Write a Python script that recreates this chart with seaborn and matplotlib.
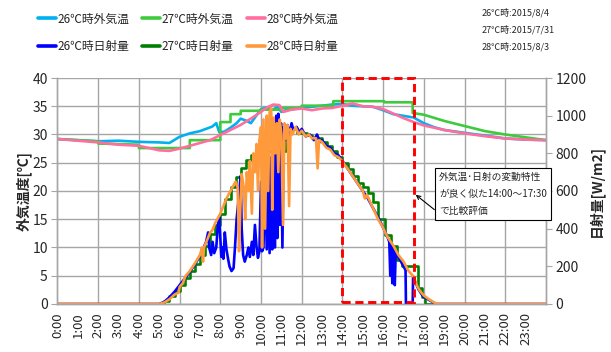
import matplotlib
matplotlib.use("Agg")
import matplotlib.pyplot as plt
from matplotlib.patches import Rectangle
import seaborn as sns

sns.set_style("white")
plt.rcParams['font.family'] = ['Noto Sans CJK JP', 'DejaVu Sans']

# ---- outdoor air temperature [°C] (time in hours) ----
t_temp26 = [0, 1, 2, 3, 4, 5, 5.5, 6, 6.5, 7, 7.3, 7.6, 7.8, 7.95, 8.2, 8.5, 8.8, 9.0, 9.3,
            9.5, 9.8, 10.0, 10.3, 10.6, 10.8, 11.0, 11.3, 11.6, 12, 12.5, 13, 13.5, 14, 14.5,
            15, 15.5, 16, 16.5, 17, 17.5, 18, 18.5, 19, 20, 21, 22, 23, 24]
v_temp26 = [29.2, 29.0, 28.8, 28.9, 28.7, 28.6, 28.5, 29.6, 30.2, 30.6, 31.0, 31.4, 32.0, 30.4,
            30.5, 31.2, 32.0, 32.8, 32.4, 32.0, 33.5, 34.5, 34.8, 34.4, 34.9, 34.0, 34.4, 34.5,
            34.8, 34.9, 35.1, 35.3, 35.4, 35.1, 35.0, 34.9, 34.3, 33.6, 33.3, 33.0, 32.0, 31.3,
            30.8, 30.3, 29.8, 29.3, 29.1, 29.0]

# 27℃ day: logged as a staircase, each change written as a pair of points
t_temp27 = [0, 2, 2, 4, 4, 6.5, 6.5, 8, 8, 8.5, 8.5, 9, 9, 10, 10, 11, 11, 12, 12, 13.55,
            13.55, 16.05, 16.05, 17.45, 17.45, 18, 19, 20, 21, 22, 23, 24]
v_temp27 = [29.2, 28.8, 28.4, 28.2, 27.6, 27.6, 29.0, 29.0, 32.2, 32.2, 33.6, 33.6, 34.2, 34.2,
            34.4, 34.4, 34.7, 34.7, 35.1, 35.1, 35.9, 35.9, 35.7, 35.7, 33.8, 33.5, 32.4, 31.5,
            30.6, 30.0, 29.5, 29.0]

t_temp28 = [0, 1, 2, 3, 4, 4.5, 5, 5.5, 6, 6.5, 7, 7.5, 8, 8.5, 9, 9.5, 10, 10.3, 10.6, 10.9,
            11.1, 11.5, 12, 12.5, 13, 13.5, 14, 14.5, 15, 15.5, 16, 16.5, 17, 17.5, 18, 18.5,
            19, 20, 21, 22, 23, 24]
v_temp28 = [29.2, 28.9, 28.6, 28.2, 28.0, 27.6, 27.2, 27.1, 27.5, 28.0, 28.5, 29.0, 29.9, 30.8,
            31.7, 32.8, 34.0, 34.8, 35.3, 35.2, 34.0, 34.4, 34.6, 34.3, 34.6, 34.7, 35.1, 35.5,
            35.0, 34.9, 34.5, 33.7, 32.9, 32.2, 31.6, 31.2, 30.8, 30.2, 29.7, 29.3, 29.1, 29.0]

# ---- solar radiation [W/m2] ----
t_rad26 = [0, 5.0, 5.25, 5.5, 5.75, 6.0, 6.25, 6.5, 6.75, 7.0, 7.15, 7.3, 7.4, 7.45, 7.55, 7.62,
           7.7, 7.8, 7.88, 7.95, 8.0, 8.05, 8.1, 8.15, 8.22, 8.3, 8.38, 8.45, 8.55, 8.65, 8.72,
           8.8, 8.9, 9.0, 9.05, 9.12, 9.2, 9.3, 9.38, 9.45, 9.55, 9.62, 9.7, 9.78, 9.85, 9.92,
           10.0, 10.05, 10.12, 10.2, 10.28, 10.35, 10.42, 10.5, 10.55, 10.62, 10.68, 10.75,
           10.8, 10.85, 10.92, 10.98, 11.05, 11.12, 11.2, 11.3, 11.4, 11.5, 11.6, 11.75, 11.9,
           12.0, 12.2, 12.4, 12.6, 12.75, 12.9, 13.0, 13.2, 13.4, 13.6, 13.8, 14.0, 14.25, 14.5,
           14.75, 15.0, 15.25, 15.5, 15.75, 16.0, 16.2, 16.3, 16.35, 16.4, 16.45, 16.52, 16.57,
           16.62, 16.7, 16.8, 16.9, 17.0, 17.1, 17.12, 17.45, 17.47, 17.6, 17.75, 17.9, 18.0,
           18.2, 18.4, 18.6, 24]
v_rad26 = [0, 0, 12, 35, 65, 100, 135, 170, 210, 255, 290, 330, 380, 300, 260, 330,
           270, 300, 420, 460, 350, 250, 300, 240, 380, 290, 240, 200, 175, 190, 300,
           450, 560, 680, 400, 260, 225, 260, 300, 250, 330, 260, 420, 300, 245, 280,
           650, 280, 300, 720, 290, 760, 270, 780, 290, 830, 300, 1000,
           350, 1010, 420, 960, 300, 940, 870, 950, 900, 960, 920, 940, 910,
           930, 890, 900, 870, 900, 860, 870, 840, 830, 800, 790, 760, 720, 680,
           640, 600, 560, 510, 460, 405, 360, 330, 150, 320, 110, 300, 100,
           280, 260, 240, 220, 200, 180, 0, 0, 140, 110, 75, 50, 38,
           25, 12, 0, 0]

# 27℃ day: step values, each held until the next time stamp
t_rad27 = [0, 5.0, 5.25, 5.5, 5.75, 6.0, 6.25, 6.5, 6.75, 7.0, 7.25, 7.5, 7.75, 8.0, 8.25,
           8.5, 8.75, 9.0, 9.25, 9.5, 10.0, 11.25, 11.75, 12.25, 12.5, 13.0, 13.25, 13.5,
           13.75, 14.0, 14.25, 14.5, 14.75, 15.0, 15.25, 15.5, 15.75, 16.1, 16.4, 16.7, 16.95,
           17.7, 17.9, 18.05, 24]
v_rad27 = [0, 0, 15, 40, 70, 100, 140, 175, 210, 260, 310, 370, 420, 480, 560,
           620, 675, 720, 765, 790, 810, 930, 910, 895, 880, 860, 840, 810,
           780, 750, 715, 680, 640, 620, 590, 540, 450, 365, 310, 235, 200,
           85, 37, 0, 0]

t_rad28 = [0, 5.0, 5.25, 5.5, 5.75, 5.95, 6.0, 6.15, 6.3, 6.5, 6.75, 7.0, 7.1, 7.15, 7.2, 7.35,
           7.5, 7.6, 7.75, 8.0, 8.15, 8.3, 8.45, 8.6, 8.75, 8.85, 8.92, 8.98, 9.05, 9.15, 9.22,
           9.3, 9.38, 9.45, 9.55, 9.62, 9.7, 9.78, 9.85, 9.92, 10.0, 10.05, 10.12, 10.2, 10.28,
           10.35, 10.42, 10.5, 10.55, 10.62, 10.7, 10.78, 10.85, 10.92, 11.0, 11.08, 11.15,
           11.22, 11.3, 11.38, 11.45, 11.55, 11.7, 11.85, 12.0, 12.2, 12.35, 12.5, 12.7, 12.78,
           12.85, 13.0, 13.2, 13.4, 13.6, 13.8, 14.0, 14.1, 14.25, 14.5, 14.75, 15.0, 15.1,
           15.2, 15.5, 15.75, 16.0, 16.1, 16.25, 16.5, 16.75, 17.0, 17.25, 17.5, 17.65, 17.8,
           18.0, 18.25, 18.5, 18.7, 24]
v_rad28 = [0, 0, 8, 25, 50, 60, 90, 110, 150, 175, 215, 260, 300, 225, 300, 340,
           380, 390, 430, 480, 520, 560, 590, 620, 650, 620, 280, 500, 690, 620, 450,
           700, 600, 760, 480, 800, 700, 850, 600, 870, 940, 300, 980, 400, 1000,
           600, 1020, 1040, 500, 990, 800, 960, 700, 980, 900, 420, 960,
           880, 950, 520, 930, 900, 940, 900, 920, 890, 900, 880, 880, 720,
           870, 860, 830, 820, 790, 780, 760, 740, 720, 680, 640, 600, 560,
           580, 510, 450, 405, 380, 350, 310, 260, 225, 175, 145, 100, 70,
           45, 25, 8, 0, 0]

labels_temp = ['26℃時外気温', '27℃時外気温', '28℃時外気温']
labels_rad = ['26℃時日射量', '27℃時日射量', '28℃時日射量']
date_notes = ['26℃時:2015/8/4', '27℃時:2015/7/31', '28℃時:2015/8/3']
hour_labels = [f'{h}:00' for h in range(24)]

c_temp = ['#00B0F0', '#3DCB3D', '#FF6E9C']
c_rad = ['#0000FF', '#008000', '#FF9A3C']
grid_c = '#A6A6A6'

fig = plt.figure(figsize=(6.11, 3.52), dpi=100)
ax = fig.add_axes([0.0941, 0.1364, 0.7995, 0.642])
ax2 = ax.twinx()

lw = 1.9
for t, v, c, lab in zip([t_temp26, t_temp27, t_temp28], [v_temp26, v_temp27, v_temp28],
                        c_temp, labels_temp):
    sns.lineplot(x=t, y=v, ax=ax, color=c, lw=lw, label=lab, estimator=None, sort=False,
                 legend=False)

sns.lineplot(x=t_rad27, y=v_rad27, ax=ax2, color=c_rad[1], lw=lw, label=labels_rad[1],
             estimator=None, sort=False, legend=False, drawstyle='steps-post')
sns.lineplot(x=t_rad26, y=v_rad26, ax=ax2, color=c_rad[0], lw=lw, label=labels_rad[0],
             estimator=None, sort=False, legend=False)
sns.lineplot(x=t_rad28, y=v_rad28, ax=ax2, color=c_rad[2], lw=lw, label=labels_rad[2],
             estimator=None, sort=False, legend=False)

# axes ranges and ticks
ax.set_xlim(0, 24)
ax.set_ylim(0, 40)
ax2.set_ylim(0, 1200)
ax.set_xticks(range(25))
ax.set_xticklabels(hour_labels + [''], rotation=90, fontsize=9.5)
ax.set_yticks(range(0, 41, 5))
ax.tick_params(axis='y', labelsize=10, length=4, color=grid_c, pad=3)
ax.tick_params(axis='x', length=3, color=grid_c, pad=3)
ax2.set_yticks(range(0, 1201, 200))
ax2.tick_params(axis='y', labelsize=10, length=4, color=grid_c, pad=3)
ax.set_xlabel('')
ax.set_ylabel('外気温度[℃]', fontsize=10, fontweight='bold', labelpad=0)
ax2.set_ylabel('日射量[W/m2]', fontsize=10, fontweight='bold', labelpad=1)

# grid
ax.yaxis.grid(True, color=grid_c, lw=1)
ax.xaxis.grid(False)
for h in range(2, 24, 2):
    ax.axvline(h, color=grid_c, lw=1, zorder=0)
ax.set_axisbelow(True)
for a in (ax, ax2):
    for s in a.spines.values():
        s.set_color(grid_c)
        s.set_linewidth(1)
    a.spines['top'].set_visible(False)

# comparison window
ax2.add_patch(Rectangle((14, 0.3), 3.5, 39.7, transform=ax.transData, fill=False,
                        edgecolor='#FF0000', lw=2.1, linestyle=(0, (2.8, 1.6)),
                        clip_on=False, zorder=5))

ax2.annotate('外気温･日射の変動特性\nが良く似た14:00～17:30\nで比較評価',
             xy=(17.6, 580), xytext=(18.75, 585), fontsize=7, ha='left', va='center',
             linespacing=1.85,
             bbox=dict(boxstyle='square,pad=0.45', fc='white', ec='black', lw=0.8),
             arrowprops=dict(arrowstyle='->', color='black', lw=0.8,
                             shrinkA=0, shrinkB=0, relpos=(0, 0.05)),
             zorder=6)

# legend: two rows of three
h1, l1 = ax.get_legend_handles_labels()
h2, l2 = ax2.get_legend_handles_labels()
hd = dict(zip(l1 + l2, h1 + h2))
order = [labels_temp[0], labels_rad[0], labels_temp[1], labels_rad[1],
         labels_temp[2], labels_rad[2]]
leg = fig.legend([hd[k] for k in order], order, loc='upper left',
                 bbox_to_anchor=(0.045, 0.995), ncol=3, frameon=False, fontsize=8.5,
                 handlelength=1.5, handletextpad=0.15, columnspacing=1.1,
                 labelspacing=1.25)
for line in leg.get_lines():
    line.set_linewidth(2.6)

for i, txt in enumerate(date_notes):
    fig.text(482 / 611, 1 - (13 + 17 * i) / 352, txt, fontsize=6.5, ha='left', va='center')

fig.savefig('out.png', dpi=100)
